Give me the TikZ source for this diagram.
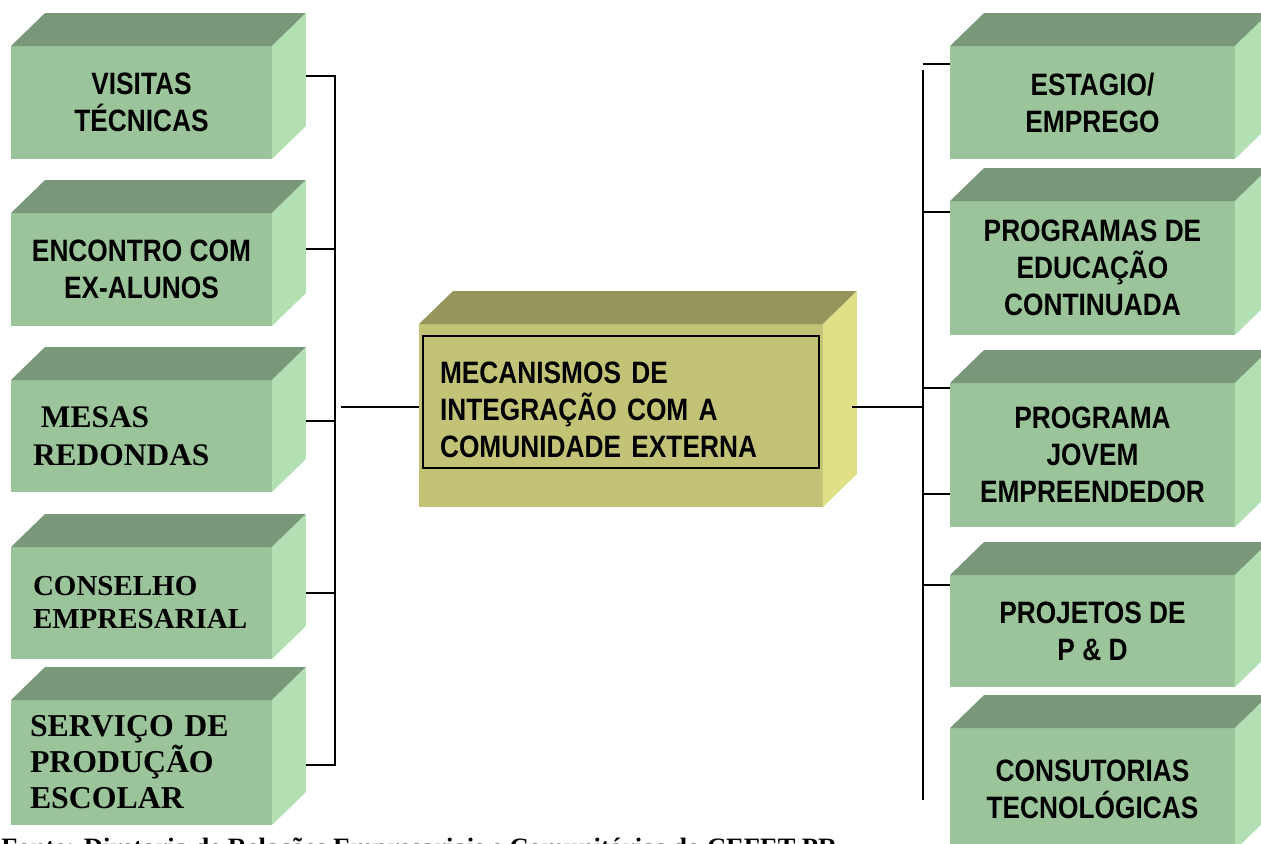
\documentclass[tikz,border=0pt]{standalone}
\usepackage{fontspec}
\setmainfont{Liberation Serif}
\newfontfamily\narrowfont[FakeStretch=0.85]{Liberation Sans}
\definecolor{box_front}{RGB}{155,196,155}
\definecolor{box_top}{RGB}{121,151,121}
\definecolor{box_side}{RGB}{179,224,179}
\definecolor{mid_front}{RGB}{194,195,118}
\definecolor{mid_top}{RGB}{150,149,91}
\definecolor{mid_side}{RGB}{224,224,136}

\begin{document}
\begin{tikzpicture}[x=0.02cm,y=-0.02cm]
    \tikzstyle{box}=[rectangle, fill=box_front, inner sep=0pt, outer sep=0pt, minimum width=5.22cm, align=center, text=black, font={\narrowfont\bfseries\fontsize{17.6}{21}\selectfont}]
    \tikzstyle{rbox}=[style=box, minimum width=5.7cm]
    \tikzstyle{tbox}=[style=box, align=left, inner xsep=0.44cm, text width=4.34cm]
    \tikzstyle{link}=[draw=black, line width=0.9pt]

    \useasboundingbox (0,0) rectangle (1261,843);
    \clip (0,0) rectangle (1261,843);

    % left column
    \node[box, minimum height=2.26cm] (l1) at (141.5,102.5) {VISITAS\\TÉCNICAS};
    \node[box, minimum height=2.26cm] (l2) at (141.5,269.5) {ENCONTRO COM\\EX-ALUNOS};
    \node[tbox, minimum height=2.24cm, font={\bfseries\fontsize{17.9}{21.6}\selectfont}] (l3) at (141.5,436) {\hspace*{0.25em}MESAS\\REDONDAS};
    \node[tbox, minimum height=2.24cm, font={\bfseries\fontsize{16.5}{18.8}\selectfont}] (l4) at (141.5,603) {CONSELHO\\EMPRESARIAL};
    \node[tbox, minimum height=2.5cm, inner xsep=0.38cm, text width=4.46cm, font={\bfseries\fontsize{18.1}{20.5}\selectfont}] (l5) at (141.5,762.5) {SERVIÇO DE\\PRODUÇÃO\\ESCOLAR};

    % right column
    \node[rbox, minimum height=2.26cm] (r1) at (1092.5,102.5) {ESTAGIO/\\EMPREGO};
    \node[rbox, minimum height=2.68cm] (r2) at (1092.5,268) {PROGRAMAS DE\\EDUCAÇÃO\\CONTINUADA};
    \node[rbox, minimum height=2.88cm] (r3) at (1092.5,455) {PROGRAMA\\JOVEM\\EMPREENDEDOR};
    \node[rbox, minimum height=2.24cm] (r4) at (1092.5,631) {PROJETOS DE\\P \& D};
    \node[rbox, minimum height=2.44cm] (r5) at (1092.5,789) {CONSUTORIAS\\TECNOLÓGICAS};

    % centre block
    \node[box, fill=mid_front, minimum width=8.08cm, minimum height=3.66cm] (m) at (621,415.5) {};
    \node[draw=black, line width=1.1pt, minimum width=7.92cm, minimum height=2.64cm, inner sep=0pt] (mi) at (621,402) {};
    \node[text width=7.24cm, inner sep=0pt, align=left, font={\narrowfont\bfseries\fontsize{17.6}{21}\selectfont}] (mt) at (621,409.5) {MECANISMOS DE\\INTEGRAÇÃO COM A\\COMUNIDADE EXTERNA};

    % top and side faces
    \foreach \b/\t/\s in {l1/box_top/box_side, l2/box_top/box_side, l3/box_top/box_side, l4/box_top/box_side, l5/box_top/box_side,
                          r1/box_top/box_side, r2/box_top/box_side, r3/box_top/box_side, r4/box_top/box_side, r5/box_top/box_side,
                          m/mid_top/mid_side} {
        \fill[\t] (\b.north west) -- ++(34,-33) -- ([shift={(34,-33)}]\b.north east) -- (\b.north east) -- cycle;
        \fill[\s] (\b.north east) -- ++(34,-33) -- ([shift={(34,-33)}]\b.south east) -- (\b.south east) -- cycle;
    }

    % connectors, left
    \coordinate (lbus) at (335,407);
    \coordinate (lhub) at (341,407);
    \foreach \b/\dy in {l1/-26.5, l2/-20.5, l3/-15, l4/-10, l5/2.5}
        \draw[link] ([shift={(34,\dy)}]\b.east) -| (lbus);
    \draw[link] (lhub) -- (lhub -| m.west);

    % connectors, right
    \coordinate (rtop) at (923,70);
    \coordinate (rbot) at (923,800);
    \draw[link] (rtop) -- (rbot);
    \foreach \b/\dy in {r1/-38.5, r2/-56, r3/-67, r3/39, r4/-46} {
        \coordinate (tap) at ([shift={(0,\dy)}]\b.west);
        \draw[link] (tap) -- (tap -| rtop);
    }
    \coordinate (mside) at ([shift={(29,-8.5)}]m.east);
    \draw[link] (mside) -- (mside -| rtop);

    \node[anchor=base west, inner sep=0pt, font={\bfseries\fontsize{15.1}{18}\selectfont}] (fonte) at (1,856) {Fonte: Diretoria de Relações Empresariais e Comunitárias do CEFET-PR};
\end{tikzpicture}
\end{document}
